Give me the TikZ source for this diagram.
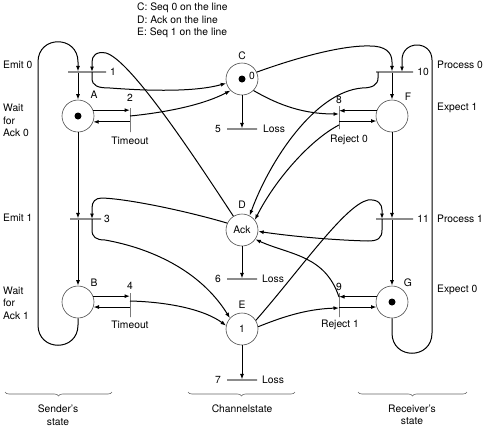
\documentclass[tikz,border=0pt]{standalone}
\usepackage{fontspec}
\setmainfont{TeX Gyre Heros}
\usetikzlibrary{arrows.meta,decorations.pathreplacing}

\tikzset{
  place/.style={circle,draw=black!70,line width=.6pt,minimum size=32pt,inner sep=0pt},
  hbar/.style={draw=black!45,line width=1.1pt,minimum width=#1,minimum height=0pt,inner sep=0pt},
  vbar/.style={draw=black!80,line width=.9pt,minimum height=#1,minimum width=0pt,inner sep=0pt},
  token/.style={circle,fill=black,minimum size=7pt,inner sep=0pt},
  flow/.style={->,line width=1pt},
  sidetext/.style={anchor=west,align=left},
  partbrace/.style={decorate,decoration={brace,amplitude=4pt,mirror},draw=black!60,line width=.6pt},
}

\begin{document}
\begin{tikzpicture}[x=1pt,y=-1pt,>={Latex[length=5.5pt,width=4pt]},every node/.style={font=\fontsize{10.3}{12.5}\selectfont,inner sep=0pt}]

\useasboundingbox (0,0) rectangle (488,429);

\node[sidetext] (key) at (137,20.5) {C: Seq 0 on the line\\D: Ack on the line\\E: Seq 1 on the line};

%% places
\node[place] (A) at (78,116) {};
\node[place] (B) at (78,302) {};
\node[place] (C) at (242,79) {};
\node[place] (D) at (242,230) {Ack};
\node[place] (E) at (242,329) {1};
\node[place] (F) at (392,116) {};
\node[place] (G) at (392,302) {};

\node[token] (kA) at (A) {};
\node[token] (kC) at (C) {};
\node[token] (kG) at (G) {};
\node (zC) at (252,76) {0};

\node (lA) at (94,95) {A};
\node (lB) at (94,283) {B};
\node (lC) at (242,56) {C};
\node (lD) at (242,205) {D};
\node (lE) at (242,305) {E};
\node (lF) at (408,97) {F};
\node (lG) at (408,283) {G};

%% transitions
\node[hbar=38pt] (t1) at (87,72) {};
\node[hbar=31pt] (t3) at (85.5,219) {};
\node[hbar=37pt] (t10) at (394.5,72) {};
\node[hbar=37pt] (t11) at (394.5,219) {};
\node[hbar=30pt] (t5) at (242,129) {};
\node[hbar=30pt] (t6) at (242,279) {};
\node[hbar=30pt] (t7) at (242,380) {};
\node[vbar=24pt] (t2) at (130,120) {};
\node[vbar=24pt] (t4) at (130,305) {};
\node[vbar=23pt] (t8) at (339,117.5) {};
\node[vbar=24pt] (t9) at (339,305) {};

\node (n1) at (113,72) {1};
\node (n3) at (107,219) {3};
\node (n10) at (423,72) {10};
\node (n11) at (423,219) {11};
\node (n2) at (130,98) {2};
\node (n4) at (130,286) {4};
\node (n8) at (339,100) {8};
\node (n9) at (339,287) {9};
\node (n5) at (218,129) {5};
\node (n6) at (218,279) {6};
\node (n7) at (218,380) {7};
\node[anchor=west] (loss5) at (263,129) {Loss};
\node[anchor=west] (loss6) at (262,279) {Loss};
\node[anchor=west] (loss7) at (262,380) {Loss};
\node (to2) at (130,141) {Timeout};
\node (to4) at (130,325) {Timeout};
\node (rj8) at (349,140) {Reject 0};
\node (rj9) at (340,325) {Reject 1};

%% side texts
\node[sidetext] (emit0) at (3,65) {Emit 0};
\node[sidetext] (wait0) at (3,120.5) {Wait\\for\\Ack 0};
\node[sidetext] (emit1) at (3,218) {Emit 1};
\node[sidetext] (wait1) at (3,303) {Wait\\for\\Ack 1};
\node[sidetext] (proc0) at (437,65) {Process 0};
\node[sidetext] (exp1) at (437,108) {Expect 1};
\node[sidetext] (proc1) at (437,219) {Process 1};
\node[sidetext] (exp0) at (437,290) {Expect 0};

%% sender column
\draw[flow] (B.south) -- (78,325) .. controls (78,352) and (38,352) .. (38,325) -- (38,62) .. controls (38,35) and (78,35) .. (78,62) -- (t1.north -| A);
\draw[flow] (t1.south -| A) -- (A.north);
\draw[flow] (A.south) -- (t3.north -| A);
\draw[flow] (t3.south -| A) -- (B.north);

%% receiver column
\draw[flow] (G.south) -- (392,333) .. controls (392,360) and (432,360) .. (432,333) -- (432,60) .. controls (432,40) and (402,40) .. (402,60) -- ([xshift=7.5pt]t10.center);
\draw[flow] (t10.south -| F) -- (F.north);
\draw[flow] (F.south) -- (t11.north -| F);
\draw[flow] (t11.south -| F) -- (G.north);

%% losses
\draw[flow] (C.south) -- (t5.north);
\draw[flow] (D.south) -- (t6.north);
\draw[flow] (E.south) -- (t7.north);

%% emit 0 / timeout
\draw[flow] ([xshift=5pt]t1.center) -- (92,78) .. controls (92,86) and (98,88) .. (110,88) .. controls (150,91) and (195,92) .. (C.195);
\draw[flow] (D.122) .. controls (190,150) and (130,60) .. (106,53) .. controls (96,51) and (92,56) .. (92,62) -- ([xshift=5pt]t1.center);
\draw[flow] (A.21) -- (A.21 -| t2);
\draw[flow] (A.-21 -| t2) -- (A.-21);
\draw[flow] ([yshift=4pt]t2.center) .. controls (170,112) and (205,104) .. (C.225);

%% emit 1 / timeout
\draw[flow] (D.155) .. controls (190,212) and (130,199) .. (102,198) .. controls (95,198) and (92,202) .. (92,208) -- ([xshift=6.5pt]t3.center);
\draw[flow] ([xshift=6.5pt]t3.center) -- (92,230) .. controls (92,237) and (96,240) .. (105,240) .. controls (150,248) and (200,270) .. (E.138);
\draw[flow] (B.21) -- (B.21 -| t4);
\draw[flow] (B.-18 -| t4) -- (B.-18);
\draw[flow] ([yshift=4pt]t4.center) .. controls (170,302) and (205,310) .. (E.168);

%% process 0 / reject 0
\draw[flow] (C.25) .. controls (290,60) and (340,45) .. (370,46) .. controls (385,46) and (392,52) .. (392,62) -- (t10.north -| F);
\draw[flow] ([xshift=-16.5pt]t10.center) -- (378,78) .. controls (378,85) and (372,88) .. (362,88) .. controls (315,92) and (270,160) .. (D.62);
\draw[flow] (C.-45) .. controls (280,106) and (305,114) .. ([yshift=3.5pt]t8.center);
\draw[flow] (F.161) -- (F.161 -| t8);
\draw[flow] (F.-162 -| t8) -- (F.-162);
\draw[flow] ([yshift=-7.5pt]t8.center) .. controls (310,140) and (275,180) .. (D.38);

%% process 1 / reject 1
\draw[flow] (E.32) .. controls (300,270) and (345,205) .. (368,200) .. controls (378,199) and (382,204) .. (382,210) -- ([xshift=-12.5pt]t11.center);
\draw[flow] ([xshift=-12.5pt]t11.center) -- (382,230) .. controls (382,238) and (378,241) .. (368,241) .. controls (330,240) and (290,236) .. (D.-5);
\draw[flow] (E.8) .. controls (280,318) and (305,309) .. ([yshift=-3pt]t9.center);
\draw[flow] (G.161) -- (G.161 -| t9);
\draw[flow] (G.-162 -| t9) -- (G.-162);
\draw[flow] ([yshift=8pt]t9.center) .. controls (325,255) and (290,255) .. (D.-35);

%% states
\draw[partbrace] (5,392) -- (112,392);
\draw[partbrace] (188,392) -- (295,392);
\draw[partbrace] (358,392) -- (467,392);
\node[align=center] (snd) at (58,415) {Sender's\\state};
\node (chn) at (242,409) {Channelstate};
\node[align=center] (rcv) at (412,415) {Receiver's\\state};

\end{tikzpicture}
\end{document}
